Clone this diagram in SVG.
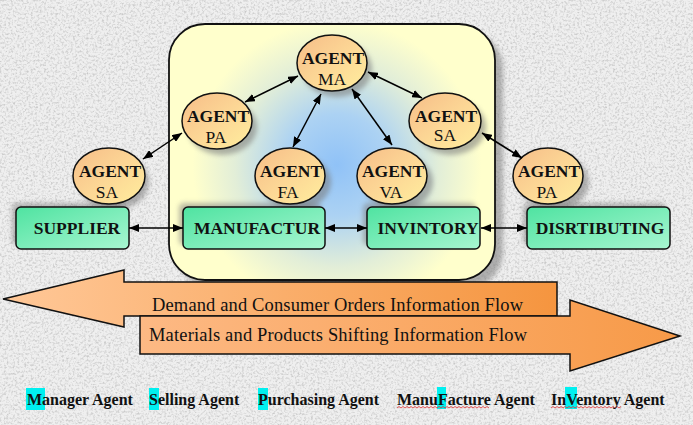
<svg xmlns="http://www.w3.org/2000/svg" width="693" height="425" viewBox="0 0 693 425">
<defs>
<filter id="noise" x="0" y="0" width="1" height="1">
<feTurbulence type="fractalNoise" baseFrequency="0.45" numOctaves="3" seed="5"/>
<feColorMatrix type="matrix" values="0 0 0 0 0.5  0 0 0 0 0.5  0 0 0 0 0.5  1.8 0 0 0 -0.8"/>
</filter>
<filter id="blur" x="-20%" y="-20%" width="140%" height="140%"><feGaussianBlur stdDeviation="2.5"/></filter>
<radialGradient id="cont" gradientUnits="userSpaceOnUse" cx="337" cy="165" r="170">
<stop offset="0" stop-color="#90C2F7"/>
<stop offset="0.3" stop-color="#ACD2F3"/>
<stop offset="0.6" stop-color="#E2EED8"/>
<stop offset="0.85" stop-color="#FFFFCC"/>
</radialGradient>
<linearGradient id="ell" x1="0" y1="0" x2="1" y2="1">
<stop offset="0" stop-color="#F6BD88"/>
<stop offset="0.5" stop-color="#FCD695"/>
<stop offset="1" stop-color="#FFEE9E"/>
</linearGradient>
<linearGradient id="box" x1="0" y1="0" x2="1" y2="1">
<stop offset="0" stop-color="#4FE3A1"/>
<stop offset="1" stop-color="#A8F6D1"/>
</linearGradient>
<linearGradient id="arrL" x1="0" y1="0" x2="1" y2="0">
<stop offset="0" stop-color="#FFC898"/>
<stop offset="1" stop-color="#F5953F"/>
</linearGradient>
<linearGradient id="arrR" x1="0" y1="0" x2="1" y2="0">
<stop offset="0" stop-color="#FDB984"/>
<stop offset="1" stop-color="#F79A48"/>
</linearGradient>
<marker id="ah" markerUnits="userSpaceOnUse" markerWidth="10" markerHeight="8" refX="10" refY="4" orient="auto-start-reverse" viewBox="0 0 10 8">
<path d="M0,0 L10,4 L0,8 z" fill="#000"/>
</marker>
<style>
.ag{font-family:"Liberation Serif","Times New Roman",serif;font-size:17.5px;font-weight:bold;text-anchor:middle;fill:#111}
.ab{font-family:"Liberation Serif","Times New Roman",serif;font-size:17.5px;text-anchor:middle;fill:#111}
.bx{font-family:"Liberation Serif","Times New Roman",serif;font-size:17.5px;font-weight:bold;text-anchor:middle;fill:#111}
.fl{font-family:"Liberation Serif","Times New Roman",serif;font-size:18.5px;fill:#111}
.lg{font-family:"Liberation Serif","Times New Roman",serif;font-size:16px;font-weight:bold;fill:#111}
.e{fill:url(#ell);stroke:#111;stroke-width:1.5}
.es{fill:#777;opacity:0.55;filter:url(#blur)}
.b{fill:url(#box);stroke:#111;stroke-width:1.5}
.bs{fill:#777;opacity:0.5;filter:url(#blur)}
.c{stroke:#000;stroke-width:1.5;fill:none;marker-start:url(#ah);marker-end:url(#ah)}
.hl{fill:#00F0F0}
.wv{fill:none;stroke:#E03030;stroke-width:0.8}
</style>
</defs>

<rect width="693" height="425" fill="#EFEFEF"/>
<rect width="693" height="425" filter="url(#noise)"/>

<g id="container">
<rect x="177" y="32" width="326" height="256" rx="36" fill="#7A7A7A" opacity="0.55" filter="url(#blur)"/>
<rect x="169" y="24" width="326" height="256" rx="36" fill="url(#cont)" stroke="#111" stroke-width="1.8"/>
</g>

<g id="flow-demand">
<polygon points="3,299 124,270 124,282 557,282 557,316 124,316 124,327" fill="url(#arrL)" stroke="#111" stroke-width="1.5" stroke-linejoin="miter"/>
<text class="fl" x="152" y="311" textLength="371" lengthAdjust="spacing">Demand and Consumer Orders Information Flow</text>
</g>
<g id="flow-materials">
<polygon points="140,316 570,316 570,300 680,336 570,371 570,354 140,354" fill="url(#arrR)" stroke="#111" stroke-width="1.5"/>
<text class="fl" x="149" y="341" textLength="378" lengthAdjust="spacing">Materials and Products Shifting Information Flow</text>
</g>

<g id="shadows">
<rect x="12" y="203" width="113" height="42" rx="5" class="bs"/>
<rect x="179" y="203" width="142" height="42" rx="5" class="bs"/>
<rect x="363" y="203" width="113" height="42" rx="5" class="bs"/>
<rect x="523" y="203" width="143" height="42" rx="5" class="bs"/>
<ellipse cx="337" cy="69" rx="35" ry="28" class="es"/>
<ellipse cx="222" cy="127" rx="35" ry="28" class="es"/>
<ellipse cx="114" cy="182" rx="35" ry="28" class="es"/>
<ellipse cx="296" cy="182" rx="35" ry="28" class="es"/>
<ellipse cx="398" cy="182" rx="35" ry="28" class="es"/>
<ellipse cx="451" cy="127" rx="35" ry="28" class="es"/>
<ellipse cx="554" cy="182" rx="35" ry="28" class="es"/>
</g>

<g id="supplier"><rect x="16" y="207" width="113" height="42" rx="5" class="b"/><text class="bx" x="77" y="234">SUPPLIER</text></g>
<g id="manufactur"><rect x="183" y="207" width="142" height="42" rx="5" class="b"/><text class="bx" x="257" y="234">MANUFACTUR</text></g>
<g id="invintory"><rect x="367" y="207" width="113" height="42" rx="5" class="b"/><text class="bx" x="428" y="234">INVINTORY</text></g>
<g id="disrtibuting"><rect x="527" y="207" width="143" height="42" rx="5" class="b"/><text class="bx" x="600" y="234">DISRTIBUTING</text></g>

<g id="agent-ma"><ellipse cx="332" cy="63" rx="35" ry="28" class="e"/><text class="ag" x="333" y="64">AGENT</text><text class="ab" x="332" y="85">MA</text></g>
<g id="agent-pa1"><ellipse cx="217" cy="121" rx="35" ry="28" class="e"/><text class="ag" x="218" y="122">AGENT</text><text class="ab" x="216" y="143">PA</text></g>
<g id="agent-sa1"><ellipse cx="109" cy="176" rx="36" ry="28" class="e"/><text class="ag" x="110" y="177">AGENT</text><text class="ab" x="107" y="198">SA</text></g>
<g id="agent-fa"><ellipse cx="290" cy="176" rx="35" ry="28" class="e"/><text class="ag" x="291" y="177">AGENT</text><text class="ab" x="288" y="198">FA</text></g>
<g id="agent-va"><ellipse cx="392" cy="176" rx="35" ry="28" class="e"/><text class="ag" x="393" y="177">AGENT</text><text class="ab" x="391" y="198">VA</text></g>
<g id="agent-sa2"><ellipse cx="445" cy="121" rx="36" ry="28" class="e"/><text class="ag" x="446" y="122">AGENT</text><text class="ab" x="445" y="141">SA</text></g>
<g id="agent-pa2"><ellipse cx="548" cy="176" rx="35" ry="28" class="e"/><text class="ag" x="549" y="177">AGENT</text><text class="ab" x="547" y="198">PA</text></g>

<g id="connectors">
<line class="c" x1="129" y1="228" x2="183" y2="228"/>
<line class="c" x1="325" y1="228" x2="367" y2="228"/>
<line class="c" x1="481" y1="228" x2="527" y2="228"/>
<line class="c" x1="143" y1="159" x2="182" y2="133"/>
<line class="c" x1="245" y1="102" x2="298" y2="76"/>
<line class="c" x1="321" y1="94" x2="293" y2="147"/>
<line class="c" x1="352" y1="89" x2="392" y2="145"/>
<line class="c" x1="368" y1="72" x2="422" y2="98"/>
<line class="c" x1="482" y1="133" x2="522" y2="158"/>
</g>

<g id="legend">
<rect class="hl" x="26" y="388" width="19" height="22"/>
<rect class="hl" x="149" y="388" width="10" height="22"/>
<rect class="hl" x="258" y="388" width="10" height="22"/>
<rect class="hl" x="437" y="387" width="9" height="22"/>
<rect class="hl" x="565" y="387" width="12" height="22"/>
<path class="wv" d="M397,408 l2,-1.5 l2,1.5 l2,-1.5 l2,1.5 l2,-1.5 l2,1.5 l2,-1.5 l2,1.5 l2,-1.5 l2,1.5 l2,-1.5 l2,1.5 l2,-1.5 l2,1.5 l2,-1.5 l2,1.5 l2,-1.5 l2,1.5 l2,-1.5 l2,1.5 l2,-1.5 l2,1.5 l2,-1.5 l2,1.5 l2,-1.5 l2,1.5 l2,-1.5 l2,1.5 l2,-1.5 l2,1.5 l2,-1.5 l2,1.5 l2,-1.5 l2,1.5 l2,-1.5 l2,1.5 l2,-1.5 l2,1.5 l2,-1.5 l2,1.5 l2,-1.5 l2,1.5 l2,-1.5 l2,1.5 l2,-1.5 l2,1.5"/>
<path class="wv" d="M551,408 l2,-1.5 l2,1.5 l2,-1.5 l2,1.5 l2,-1.5 l2,1.5 l2,-1.5 l2,1.5 l2,-1.5 l2,1.5 l2,-1.5 l2,1.5 l2,-1.5 l2,1.5 l2,-1.5 l2,1.5 l2,-1.5 l2,1.5 l2,-1.5 l2,1.5 l2,-1.5 l2,1.5 l2,-1.5 l2,1.5 l2,-1.5 l2,1.5 l2,-1.5 l2,1.5 l2,-1.5 l2,1.5 l2,-1.5 l2,1.5 l2,-1.5 l2,1.5 l2,-1.5"/>
<text class="lg" x="27" y="405">Manager Agent</text>
<text class="lg" x="149" y="405">Selling Agent</text>
<text class="lg" x="258" y="405">Purchasing Agent</text>
<text class="lg" x="397" y="405">ManuFacture Agent</text>
<text class="lg" x="551" y="405">InVentory Agent</text>
</g>
</svg>
